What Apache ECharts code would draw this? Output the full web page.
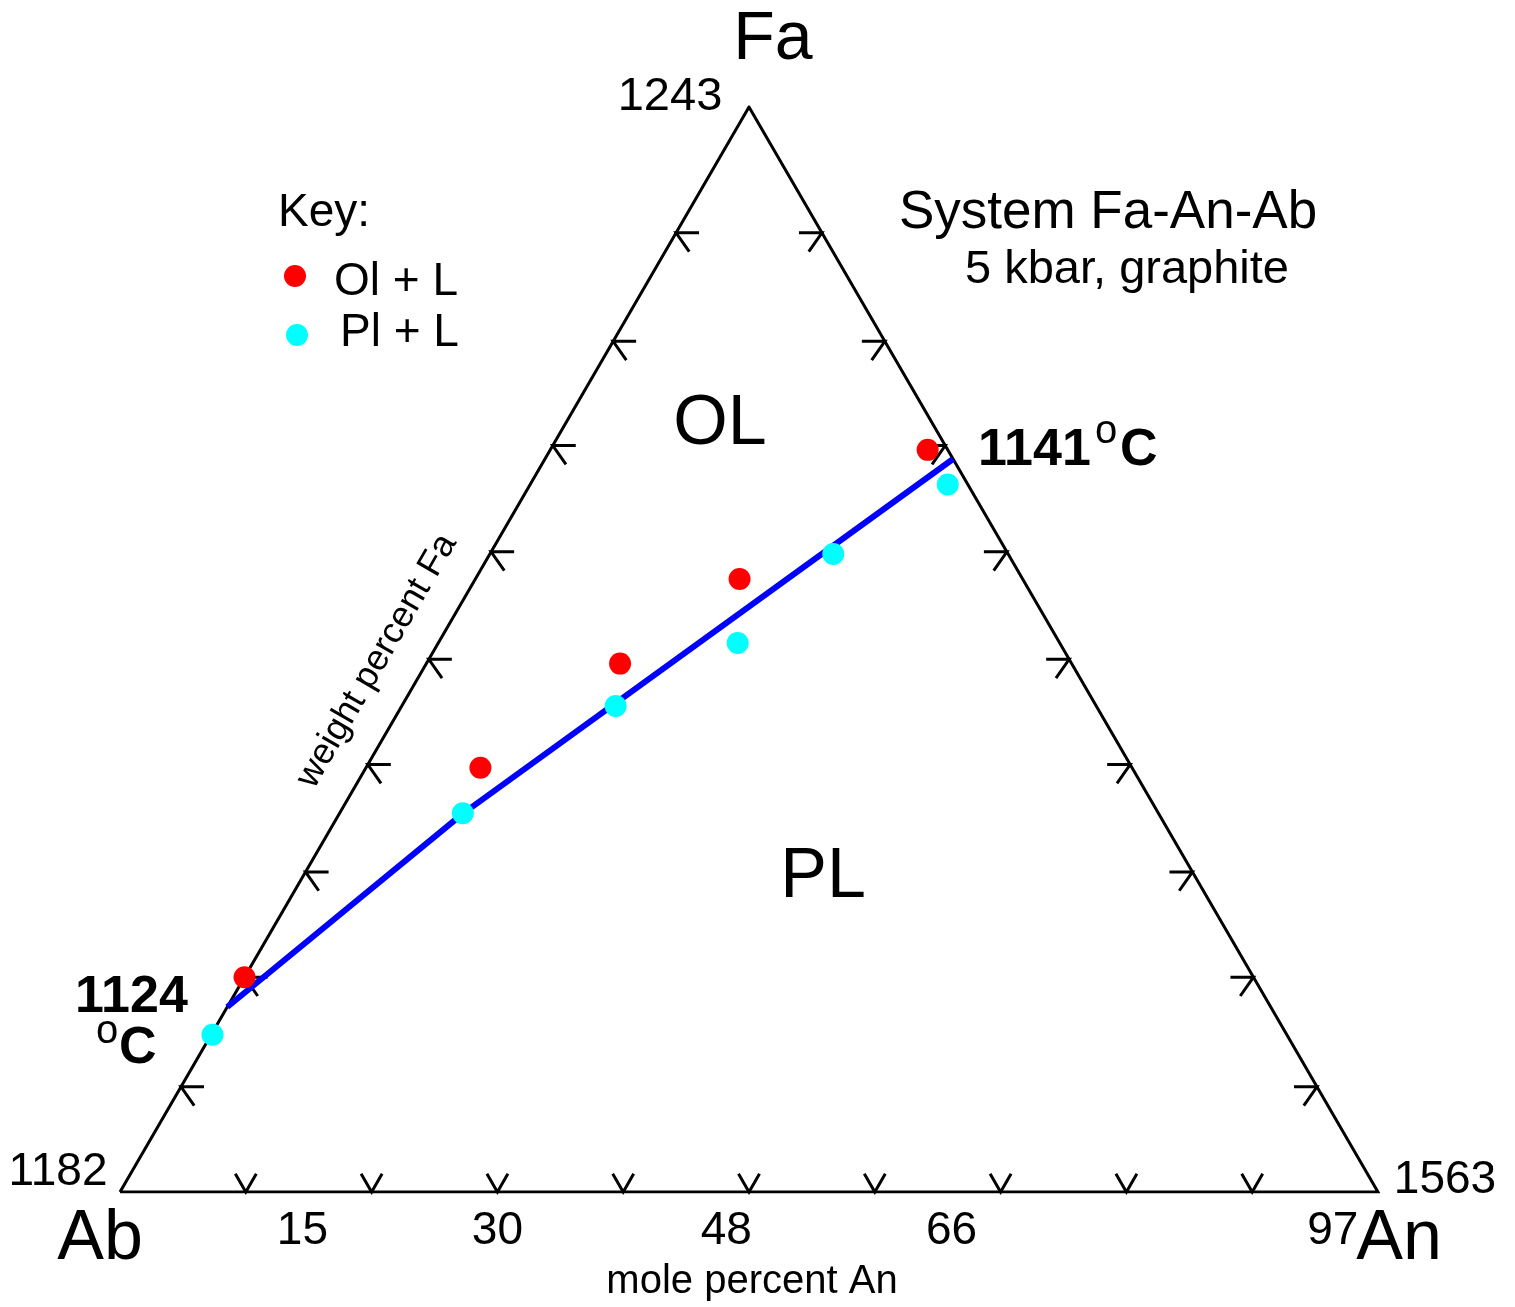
<!DOCTYPE html>
<html>
<head>
<meta charset="utf-8">
<script src="https://cdn.jsdelivr.net/npm/echarts@6/dist/echarts.min.js"></script>
<style>
  html, body { margin: 0; padding: 0; background: #fff; }
  #main { width: 1515px; height: 1307px; }
</style>
</head>
<body>
<div id="main"></div>
<script>
// ternary points as [An, Fa] fractions, Ab = 1 - An - Fa
var olL = [[0.000, 0.198], [0.091, 0.391], [0.154, 0.487], [0.210, 0.565], [0.300, 0.684]];
var plL = [[0.001, 0.145], [0.098, 0.349], [0.170, 0.448], [0.238, 0.506], [0.273, 0.588], [0.332, 0.652]];
var cotectic = [[0.000, 0.1705], [0.098, 0.3485], [0.3244, 0.6756]];

var bottomTicks = [0.1, 0.2, 0.3, 0.4, 0.5, 0.6, 0.7, 0.8, 0.9];
var leftTicks = [0.097, 0.198, 0.295, 0.394, 0.491, 0.590, 0.688, 0.784, 0.884];
var rightTicks = [0.097, 0.198, 0.295, 0.394, 0.491, 0.590, 0.688, 0.784, 0.884];

var anLabels = ['15', '30', '48', '66', '97'];
var anLabelPos = [0.145, 0.300, 0.482, 0.661, 0.964];

var toXY = function (p) {
  return [p[0] + p[1] / 2, p[1]];
};

var ticks = [];
bottomTicks.forEach(function (t) { ticks.push([t, 0, 0]); });
leftTicks.forEach(function (f) { ticks.push([f / 2, f, 1]); });
rightTicks.forEach(function (f) { ticks.push([1 - f / 2, f, 2]); });

var txt = function (text, x, y, size, opt) {
  opt = opt || {};
  return {
    type: 'text',
    x: x,
    y: y,
    rotation: opt.rotation || 0,
    z: 10,
    style: {
      text: text,
      fill: '#000',
      font: (opt.bold ? 'bold ' : '') + size + 'px "Liberation Sans", Arial, sans-serif',
      textAlign: opt.align || 'center',
      textVerticalAlign: 'middle'
    }
  };
};

var option = {
  animation: false,
  backgroundColor: '#fff',
  grid: { left: 120, top: 107, width: 1258, height: 1085 },
  xAxis: { type: 'value', min: 0, max: 1, show: false },
  yAxis: { type: 'value', min: 0, max: 1, show: false },
  graphic: [
    txt('Fa', 773, 40, 68),
    txt('1243', 670, 97, 47),
    txt('Ab', 100, 1240, 70),
    txt('An', 1399, 1240, 70),
    txt('1182', 58, 1172, 46),
    txt('1563', 1445, 1180, 46),
    txt('Key:', 278, 213, 46, { align: 'left' }),
    { type: 'circle', shape: { cx: 295, cy: 276, r: 11 }, style: { fill: '#FF0000' } },
    { type: 'circle', shape: { cx: 297, cy: 335, r: 11 }, style: { fill: '#00FFFF' } },
    txt('Ol + L', 334, 282, 46, { align: 'left' }),
    txt('Pl + L', 340, 333, 46, { align: 'left' }),
    txt('System Fa-An-Ab', 1108, 213, 53),
    txt('5 kbar, graphite', 1127, 270, 47),
    txt('OL', 720, 425, 70),
    txt('PL', 823, 878, 70),
    txt('1141', 978, 451, 52, { align: 'left', bold: true }),
    txt('o', 1106, 432, 40, { align: 'center' }),
    txt('C', 1120, 451, 52, { align: 'left', bold: true }),
    txt('1124', 75, 998, 52, { align: 'left', bold: true }),
    txt('o', 107, 1032, 40, { align: 'center' }),
    txt('C', 119, 1049, 52, { align: 'left', bold: true }),
    txt('mole percent An', 752, 1282, 40),
    txt('weight percent Fa', 377, 661, 36, { rotation: Math.PI / 3 })
  ],
  series: [
    {
      type: 'line',
      data: [[0, 0], [1, 0], [0.5, 1], [0, 0]],
      symbol: 'none',
      lineStyle: { color: '#000', width: 3, join: 'miter' },
      z: 2
    },
    {
      type: 'custom',
      data: ticks,
      z: 3,
      renderItem: function (params, api) {
        var p = api.coord([api.value(0), api.value(1)]);
        var e = api.value(2);
        var arms = [
          [[-0.5, -0.866, 21], [0.5, -0.866, 21]],
          [[1, 0, 23], [0.574, 0.819, 23]],
          [[-1, 0, 23], [-0.574, 0.819, 23]]
        ][e];
        return {
          type: 'polyline',
          shape: {
            points: [
              [p[0] + arms[0][0] * arms[0][2], p[1] + arms[0][1] * arms[0][2]],
              p,
              [p[0] + arms[1][0] * arms[1][2], p[1] + arms[1][1] * arms[1][2]]
            ]
          },
          style: { stroke: '#000', lineWidth: 3, fill: null }
        };
      }
    },
    {
      type: 'scatter',
      data: anLabelPos.map(function (v, i) { return { value: [v, 0], name: anLabels[i] }; }),
      symbolSize: 0,
      itemStyle: { opacity: 1 },
      label: {
        show: true,
        position: 'bottom',
        distance: 16,
        formatter: '{b}',
        color: '#000',
        opacity: 1,
        fontSize: 46,
        fontFamily: '"Liberation Sans", Arial, sans-serif'
      },
      z: 4
    },
    {
      type: 'line',
      data: cotectic.map(toXY),
      symbol: 'none',
      lineStyle: { color: '#0000FF', width: 6 },
      z: 5
    },
    {
      name: 'Ol + L',
      type: 'scatter',
      data: olL.map(toXY),
      symbolSize: 22,
      itemStyle: { color: '#FF0000', opacity: 1 },
      z: 6
    },
    {
      name: 'Pl + L',
      type: 'scatter',
      data: plL.map(toXY),
      symbolSize: 22,
      itemStyle: { color: '#00FFFF', opacity: 1 },
      z: 6
    }
  ]
};

var chart = echarts.init(document.getElementById('main'));
chart.setOption(option);
</script>
</body>
</html>
